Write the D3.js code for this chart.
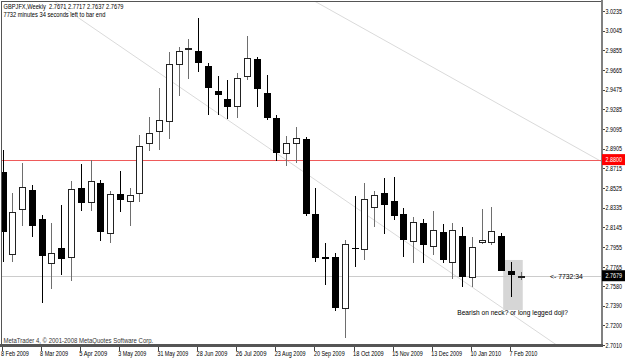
<!DOCTYPE html>
<html>
<head>
<script src="https://cdn.jsdelivr.net/npm/d3@7"></script>
<style>
  body { margin: 0; background: #fff; }
  svg { display: block; font-family: 'Liberation Sans', Arial, sans-serif; }
</style>
</head>
<body>
<svg width="625" height="364"></svg>
<script>

// weekly bars, first one is the week of 8 Feb 2009, last is the open one
var opens = [2.8676, 2.7886, 2.8320, 2.8507, 2.8227, 2.7805, 2.7947, 2.7863, 2.8526, 2.8388,
  2.8574, 2.8089, 2.8471, 2.8403, 2.8475, 2.8958, 2.9079, 2.9176, 2.9723, 2.9865,
  2.9852, 2.9701, 2.9463, 2.9385, 2.9321, 2.9605, 2.9772, 2.9440, 2.9199, 2.8861,
  2.8958, 2.8996, 2.8275, 2.7857, 2.7857, 2.7364, 2.7944, 2.7940, 2.8340, 2.8475,
  2.8401, 2.8278, 2.8017, 2.8191, 2.7969, 2.8104, 2.7814, 2.8065, 2.7664, 2.8002,
  2.8005, 2.8063, 2.7727, 2.7671];
var highs = [2.8893, 2.8481, 2.8770, 2.8555, 2.8265, 2.8185, 2.8359, 2.8594, 2.8758, 2.8796,
  2.8603, 2.8497, 2.8693, 2.8523, 2.9038, 2.9215, 2.9495, 2.9836, 2.9885, 2.9962,
  3.0165, 2.9736, 2.9608, 2.9569, 2.9639, 2.9994, 2.9794, 2.9617, 2.9231, 2.9028,
  2.9118, 2.9021, 2.8523, 2.7992, 2.7896, 2.8024, 2.8449, 2.8571, 2.8500, 2.8620,
  2.8629, 2.8330, 2.8249, 2.8230, 2.8307, 2.8178, 2.8185, 2.8147, 2.8056, 2.8320,
  2.8345, 2.8089, 2.7814, 2.7717];
var lows = [2.7811, 2.7809, 2.8159, 2.8056, 2.7418, 2.7554, 2.7683, 2.7625, 2.8307, 2.8304,
  2.8014, 2.7992, 2.8294, 2.8159, 2.8394, 2.8883, 2.8893, 2.8996, 2.9414, 2.9579,
  2.9643, 2.9234, 2.9234, 2.9195, 2.9202, 2.9569, 2.9311, 2.9183, 2.8790, 2.8738,
  2.8770, 2.8256, 2.7814, 2.7589, 2.7341, 2.7075, 2.7766, 2.7831, 2.8152, 2.8082,
  2.8217, 2.7863, 2.7799, 2.7799, 2.7879, 2.7805, 2.7644, 2.7567, 2.7567, 2.7985,
  2.7976, 2.7727, 2.7471, 2.7637];
var closes = [2.8098, 2.8294, 2.8533, 2.8159, 2.7869, 2.7896, 2.7843, 2.8513, 2.8384, 2.8594,
  2.8101, 2.8465, 2.8410, 2.8458, 2.8932, 2.9054, 2.9183, 2.9721, 2.9852, 2.9875,
  2.9736, 2.9495, 2.9421, 2.9305, 2.9585, 2.9778, 2.9479, 2.9199, 2.8861, 2.8963,
  2.9006, 2.8272, 2.7847, 2.7838, 2.7364, 2.7982, 2.7934, 2.8420, 2.8461, 2.8359,
  2.8256, 2.8024, 2.8201, 2.7973, 2.8120, 2.7831, 2.8118, 2.7667, 2.7953, 2.8024,
  2.8114, 2.7727, 2.7686, 2.7679];

var timeLabels = ['8 Feb 2009', '8 Mar 2009', '5 Apr 2009', '3 May 2009', '31 May 2009',
  '28 Jun 2009', '26 Jul 2009', '23 Aug 2009', '20 Sep 2009', '18 Oct 2009',
  '15 Nov 2009', '13 Dec 2009', '10 Jan 2010', '7 Feb 2010'];
var timeLabelBars = [0, 4, 8, 12, 16, 20, 24, 28, 32, 36, 40, 44, 48, 52];

var priceTicks = [3.0235, 3.0045, 2.9855, 2.9665, 2.9475, 2.9285, 2.9095, 2.8905, 2.8715,
  2.8525, 2.8335, 2.8145, 2.7955, 2.7765, 2.7580, 2.7390, 2.7200, 2.7010];

var levelPrice = 2.8800;
var bidPrice = 2.7679;

// trend lines as two anchors each: [bar, price]
var trendA = [[15.08, 2.9697], [56.67, 2.7010]];
var trendB = [[38.6, 2.9977], [55.48, 2.9086]];

// shaded box round the last closed bar: bars and prices
var boxBars = [51.2, 53.2];
var boxPrices = [2.7831, 2.7348];

var noteText = 'Bearish on neck? or long legged doji?';
var noteAt = [46.5, 2.7295];

var headerLine1 = 'GBPJFX,Weekly  2.7671 2.7717 2.7637 2.7679';
var headerLine2 = '7732 minutes 34 seconds left to bar end';
var timerText = '<- 7732:34';
var copyright = 'MetaTrader 4, \u00a9 2001-2008 MetaQuotes Software Corp.';

var svg = d3.select('svg');

// plot box (window.top is taken, so own names)
var plotL = 2, plotR = 601, plotT = 2, plotB = 344;

var x = d3.scaleLinear().domain([0, 52]).range([2.5, 511]);
var y = d3.scaleLinear().domain([2.7010, 3.0235]).range([345, 11]);

// squeeze the small MT4 style text horizontally so it takes perChar px a letter
function fit(sel, perChar) {
    sel.each(function () {
        var t = d3.select(this);
        var x0 = +t.attr('x'), y0 = +t.attr('y');
        var s = this.textContent.length * perChar / this.getComputedTextLength();
        t.attr('x', 0).attr('y', 0)
            .attr('transform', 'translate(' + x0 + ',' + y0 + ') scale(' + s + ',1)');
    });
    return sel;
}

svg.append('clipPath').attr('id', 'plot')
    .append('rect').attr('x', plotL).attr('y', plotT)
    .attr('width', plotR - plotL).attr('height', plotB - plotT);

var g = svg.append('g').attr('clip-path', 'url(#plot)');

// shaded box
g.append('rect')
    .attr('x', x(boxBars[0]))
    .attr('y', y(boxPrices[0]))
    .attr('width', x(boxBars[1]) - x(boxBars[0]))
    .attr('height', y(boxPrices[1]) - y(boxPrices[0]))
    .attr('fill', '#d6d6d6');

// trend lines, stretched across the whole chart
function stretched(a) {
    var slope = (a[1][1] - a[0][1]) / (a[1][0] - a[0][0]);
    return [-10, 80].map(function (b) { return [b, a[0][1] + (b - a[0][0]) * slope]; });
}
var line = d3.line().x(function (d) { return x(d[0]); }).y(function (d) { return y(d[1]); });
[trendA, trendB].forEach(function (t) {
    g.append('path').attr('d', line(stretched(t)))
        .attr('fill', 'none').attr('stroke', '#dadada').attr('stroke-width', 1);
});

// horizontal level and bid line
g.append('line')
    .attr('x1', plotL).attr('x2', plotR)
    .attr('y1', Math.round(y(levelPrice)) + 0.5).attr('y2', Math.round(y(levelPrice)) + 0.5)
    .attr('stroke', '#ee5a5a');
g.append('line')
    .attr('x1', plotL).attr('x2', plotR)
    .attr('y1', Math.round(y(bidPrice)) + 0.5).attr('y2', Math.round(y(bidPrice)) + 0.5)
    .attr('stroke', '#cccccc');

// candles
var bars = d3.range(opens.length).map(function (i) {
    return { i: i, o: opens[i], h: highs[i], l: lows[i], c: closes[i] };
});

var candle = g.selectAll('.candle').data(bars).enter().append('g').attr('class', 'candle');

candle.append('line')
    .attr('x1', function (d) { return Math.round(x(d.i)) + 0.5; })
    .attr('x2', function (d) { return Math.round(x(d.i)) + 0.5; })
    .attr('y1', function (d) { return Math.round(y(d.h)); })
    .attr('y2', function (d) { return Math.round(y(d.l)); })
    .attr('stroke', function (d) { return d.c < d.o ? '#000' : '#6e6e6e'; });

candle.append('rect')
    .attr('x', function (d) { return Math.round(x(d.i)) - (d.c < d.o ? 3 : 2.5); })
    .attr('width', function (d) { return d.c < d.o ? 7 : 6; })
    .attr('y', function (d) {
        var t = Math.round(y(Math.max(d.o, d.c)));
        return d.c < d.o ? t : t + 0.5;
    })
    .attr('height', function (d) {
        var hgt = Math.round(y(Math.min(d.o, d.c))) - Math.round(y(Math.max(d.o, d.c)));
        return d.c < d.o ? Math.max(1, hgt) : Math.max(0, hgt);
    })
    .attr('fill', function (d) { return d.c < d.o ? '#000' : '#fff'; })
    .attr('stroke', function (d) { return d.c < d.o ? 'none' : '#222'; })
    .attr('stroke-width', 1);

// note and timer text
fit(g.append('text')
    .attr('x', x(noteAt[0])).attr('y', y(noteAt[1]))
    .attr('font-size', 7.5).attr('fill', '#000')
    .text(noteText), 3.0);

fit(g.append('text')
    .attr('x', 550).attr('y', y(bidPrice) + 3)
    .attr('font-size', 7.5).attr('fill', '#000')
    .style('white-space', 'pre')
    .text(timerText), 3.3);

// header and copyright
fit(svg.append('text').attr('x', 3.5).attr('y', 8.5).attr('font-size', 7.5)
    .style('white-space', 'pre').text(headerLine1), 2.86);
fit(svg.append('text').attr('x', 3.5).attr('y', 16.5).attr('font-size', 7.5)
    .text(headerLine2), 2.62);
fit(svg.append('text').attr('x', 3.5).attr('y', 342.5).attr('font-size', 7.5).attr('fill', '#333')
    .text(copyright), 2.94);

// frame
svg.append('line').attr('x1', 1).attr('x2', plotR).attr('y1', 1.5).attr('y2', 1.5).attr('stroke', '#555');
svg.append('line').attr('x1', 1.5).attr('x2', 1.5).attr('y1', 1).attr('y2', 346).attr('stroke', '#555');
svg.append('rect').attr('x', plotR).attr('y', 0).attr('width', 2).attr('height', 347).attr('fill', '#808080');
svg.append('rect').attr('x', 0).attr('y', 344).attr('width', 603).attr('height', 3).attr('fill', '#555');

// price axis
var py = svg.append('g');
py.selectAll('line').data(priceTicks).enter().append('line')
    .attr('x1', 603).attr('x2', 605)
    .attr('y1', function (d) { return Math.round(y(d)) + 0.5; })
    .attr('y2', function (d) { return Math.round(y(d)) + 0.5; })
    .attr('stroke', '#444');
fit(py.selectAll('text').data(priceTicks).enter().append('text')
    .attr('x', 605.5)
    .attr('y', function (d) { return y(d) + 2.7; })
    .attr('font-size', 7.5)
    .text(function (d) { return d.toFixed(4); }), 2.75);

// highlighted price labels
[[levelPrice, '#ff0000'], [bidPrice, '#000000']].forEach(function (p) {
    py.append('rect').attr('x', 602).attr('y', y(p[0]) - 5.5).attr('width', 23).attr('height', 11)
        .attr('fill', p[1]);
    fit(py.append('text').attr('x', 605.5).attr('y', y(p[0]) + 2.7)
        .attr('font-size', 7.5).attr('fill', '#fff').text(p[0].toFixed(4)), 2.75);
});

// time axis
var tx = svg.append('g');
tx.selectAll('line').data(timeLabelBars).enter().append('line')
    .attr('x1', function (d) { return Math.round(x(d) - 1) + 0.5; })
    .attr('x2', function (d) { return Math.round(x(d) - 1) + 0.5; })
    .attr('y1', 347).attr('y2', 351)
    .attr('stroke', '#444');
fit(tx.selectAll('text').data(timeLabelBars).enter().append('text')
    .attr('x', function (d) { return x(d) - 1.5; })
    .attr('y', 356)
    .attr('font-size', 7.5)
    .text(function (d, i) { return timeLabels[i]; }), 2.8);

</script>
</body>
</html>
